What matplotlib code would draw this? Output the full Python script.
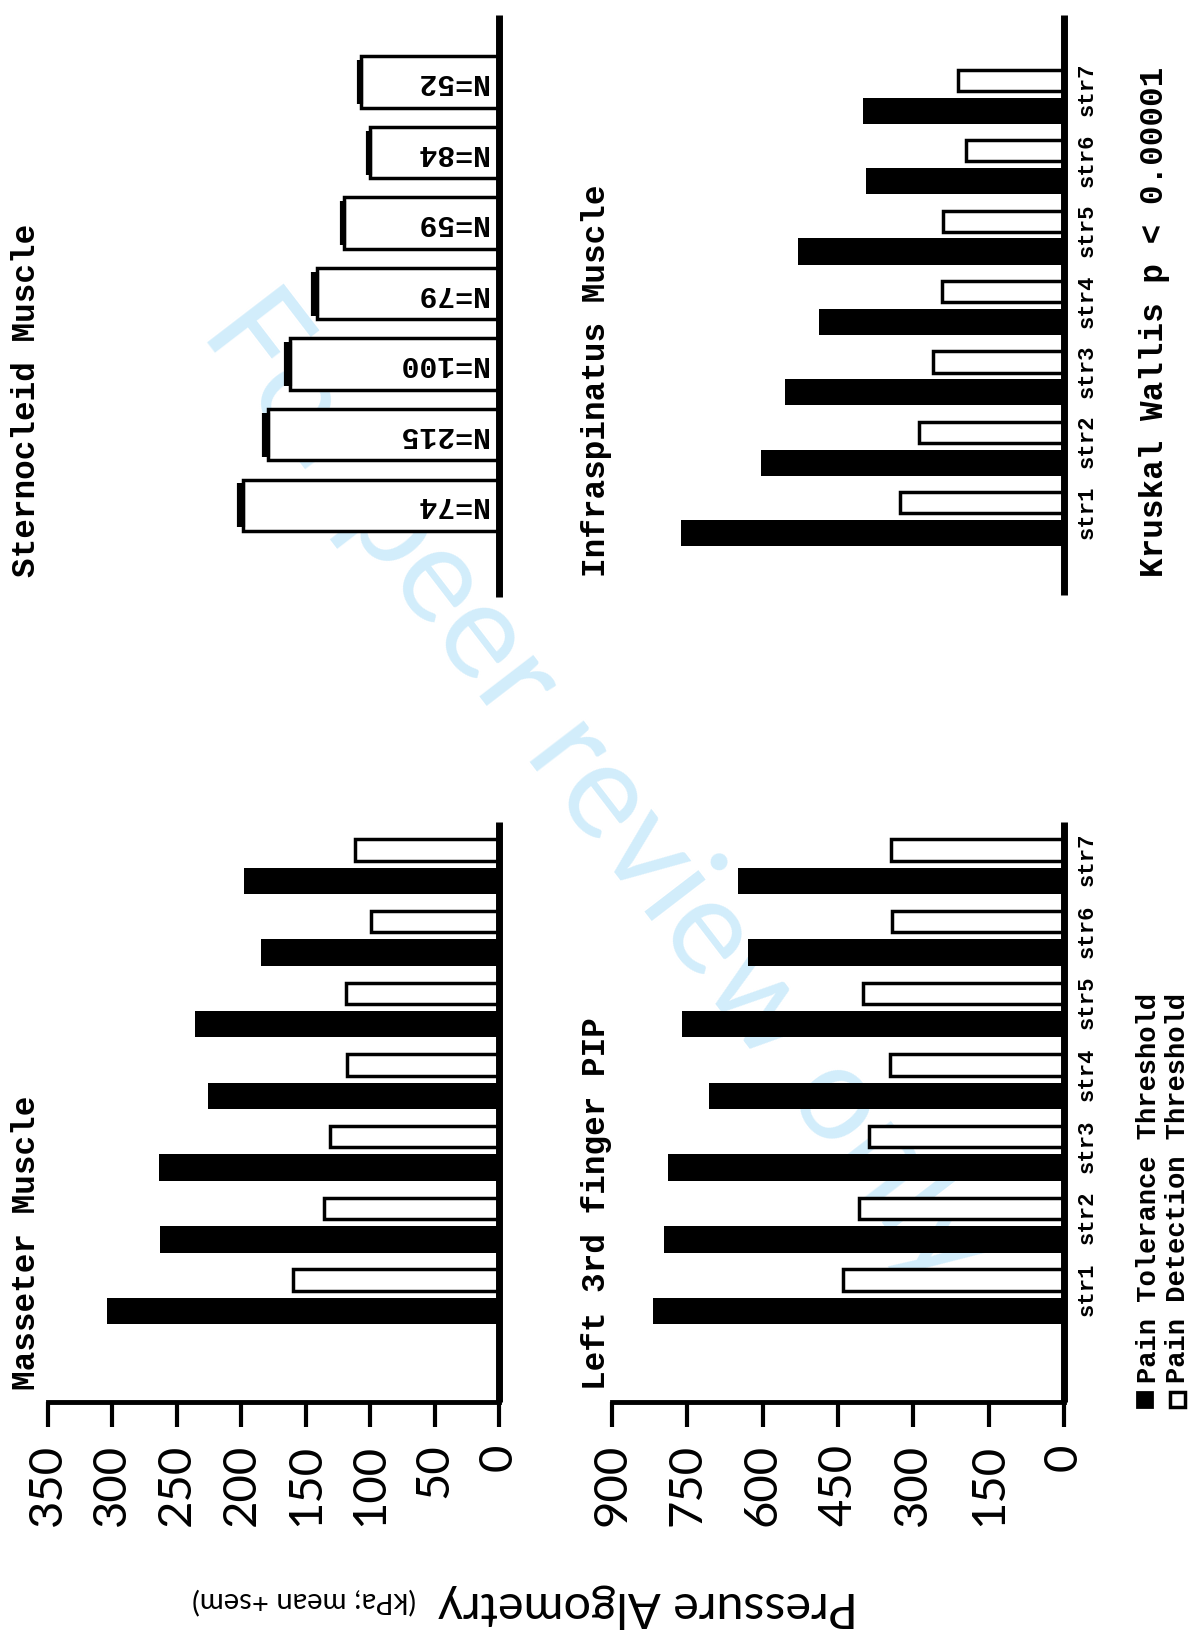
import numpy as np
import matplotlib
matplotlib.use("Agg")
import matplotlib.pyplot as plt
import matplotlib.transforms as mtransforms
from matplotlib.patches import Rectangle

# data
strains = ["str1", "str2", "str3", "str4", "str5", "str6", "str7"]
masseter_tol = [304, 263, 264, 226, 236, 185, 198]
masseter_det = [160, 136, 131, 118, 119, 99, 112]
pip_tol = [818, 797, 789, 707, 760, 630, 649]
pip_det = [440, 408, 388, 346, 400, 342, 344]
infra_tol = [763, 603, 556, 488, 530, 394, 400]
infra_det = [327, 289, 261, 243, 241, 195, 211]
stern_val = [199, 179, 162, 141, 120, 100, 107]
stern_sem = [3, 3, 3, 3, 2, 2, 2]
stern_n = ["N=74", "N=215", "N=100", "N=79", "N=59", "N=84", "N=52"]
ticks_left = [0, 50, 100, 150, 200, 250, 300, 350]
ticks_right = [0, 150, 300, 450, 600, 750, 900]

W, H = 1200, 1630
MONO = ["Liberation Mono", "DejaVu Sans Mono"]
plt.rcParams["font.family"] = ["Lato", "DejaVu Sans"]

fig = plt.figure(figsize=(12, 16.3), dpi=100)
fig.patch.set_facecolor("white")


def box(x0, y0, x1, y1):
    # pixel box (y down) -> figure fraction rect
    return [x0 / W, 1 - y1 / H, (x1 - x0) / W, (y1 - y0) / H]


def base_axes(rect, xmax, ylim, ticks):
    ax = fig.add_axes(rect)
    ax.set_facecolor("none")
    ax.set_xlim(xmax, 0)
    ax.set_ylim(*ylim)
    ax.spines["top"].set_visible(False)
    ax.spines["left"].set_visible(False)
    ax.spines["right"].set_linewidth(5)
    ax.spines["right"].set_capstyle("butt")
    ax.set_yticks([])
    if ticks is None:
        ax.spines["bottom"].set_visible(False)
        ax.set_xticks([])
    else:
        ax.spines["bottom"].set_linewidth(3.5)
        ax.set_xticks(ticks)
        ax.tick_params(axis="x", length=18, width=3, pad=12,
                       labelsize=34, labelrotation=90)
    return ax


def pair_bars(ax, tol, det):
    pos = np.arange(len(tol))
    ax.barh(pos, tol, height=0.37, color="black", linewidth=0)
    ax.barh(pos + 0.43, det, height=0.30, color="white",
            edgecolor="black", linewidth=2.5)
    return pos


def strain_labels(ax, pos):
    tr = mtransforms.blended_transform_factory(fig.transFigure, ax.transData)
    for p, s in zip(pos, strains):
        ax.text(1087 / W, p + 0.3, s, transform=tr, rotation=90,
                ha="center", va="center", fontsize=16, fontweight="bold",
                family=MONO, clip_on=False)


# watermark, under everything
fig.text(598 / W, 1 - 790 / H, "For peer review only", rotation=-52.5,
         rotation_mode="anchor", ha="center", va="center", fontsize=96,
         color="#d2edfb", zorder=-5)

# Sternocleid (top left)
ax1 = base_axes(box(48, 15, 499, 597), 350, (-1.30, 6.95), None)
pos = np.arange(len(stern_val))
ax1.barh(pos, stern_val, height=0.73, color="white", edgecolor="black",
         linewidth=2.5)
ax1.errorbar(stern_val, pos, xerr=[[0] * 7, stern_sem], fmt="none",
             ecolor="black", elinewidth=2, capsize=16, capthick=3)
for p, n in zip(pos, stern_n):
    ax1.text(9, p, n, rotation=180, ha="right", va="center", fontsize=21.5,
             fontweight="bold", family=MONO)

# Masseter (bottom left)
ax2 = base_axes(box(48, 822, 499, 1402), 350, (-1.27, 6.82), ticks_left)
pair_bars(ax2, masseter_tol, masseter_det)

# Infraspinatus (top right)
ax3 = base_axes(box(612, 15, 1064, 595), 900, (-0.88, 7.36), None)
pos = pair_bars(ax3, infra_tol, infra_det)
strain_labels(ax3, pos)

# Left 3rd finger PIP (bottom right)
ax4 = base_axes(box(612, 822, 1064, 1402), 900, (-1.27, 6.82), ticks_right)
pos = pair_bars(ax4, pip_tol, pip_det)
strain_labels(ax4, pos)

# panel titles
titles = [(27, 1390, "Masseter Muscle"), (27, 577, "Sternocleid Muscle"),
          (596, 1390, "Left 3rd finger PIP"), (596, 577, "Infraspinatus Muscle")]
for x, y, t in titles:
    fig.text(x / W, 1 - y / H, t, rotation=90, ha="center", va="bottom",
             fontsize=23.5, fontweight="bold", family=MONO)

fig.text(1154 / W, 1 - 577 / H, "Kruskal Wallis p < 0.00001", rotation=90,
         ha="center", va="bottom", fontsize=23.5, fontweight="bold", family=MONO)

# legend
sq = 15
fig.add_artist(Rectangle(((1144 - sq / 2) / W, 1 - (1399 + sq / 2) / H), sq / W, sq / H,
                         transform=fig.transFigure, facecolor="black", edgecolor="black",
                         linewidth=2))
fig.add_artist(Rectangle(((1177 - sq / 2) / W, 1 - (1399 + sq / 2) / H), sq / W, sq / H,
                         transform=fig.transFigure, facecolor="white", edgecolor="black",
                         linewidth=2.5))
fig.text(1149 / W, 1 - 1383 / H, "Pain Tolerance Threshold", rotation=90,
         ha="center", va="bottom", fontsize=19.5, fontweight="bold", family=MONO)
fig.text(1178 / W, 1 - 1383 / H, "Pain Detection Threshold", rotation=90,
         ha="center", va="bottom", fontsize=19.5, fontweight="bold", family=MONO)

# y label, upside down as in the source
fig.text(858 / W, 1 - 1592 / H, "Pressure Algometry", rotation=180,
         rotation_mode="anchor", ha="left", va="baseline", fontsize=35)
fig.text(416 / W, 1 - 1592 / H, "(kPa; mean +sem)", rotation=180,
         rotation_mode="anchor", ha="left", va="baseline", fontsize=21)

fig.savefig("out.png", dpi=100)
